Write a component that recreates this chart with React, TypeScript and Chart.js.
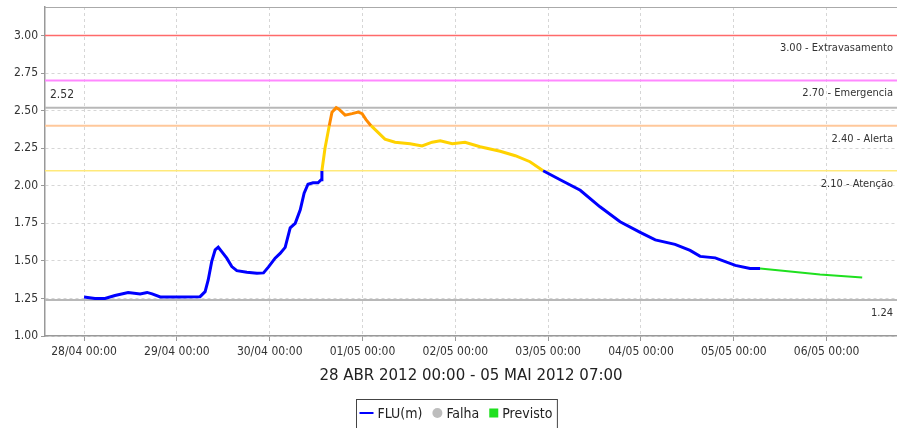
import React, { useEffect, useRef } from "react";
import { Chart, registerables } from "chart.js";

Chart.register(...registerables);

// ---------- data ----------
const xTickHours = [0, 24, 48, 72, 96, 120, 144, 168, 192];
const xTickLabels = [
  "28/04 00:00",
  "29/04 00:00",
  "30/04 00:00",
  "01/05 00:00",
  "02/05 00:00",
  "03/05 00:00",
  "04/05 00:00",
  "05/05 00:00",
  "06/05 00:00",
];
const yTickValues = [1.0, 1.25, 1.5, 1.75, 2.0, 2.25, 2.5, 2.75, 3.0];

// hours since 28/04 00:00
const observedHours = [
  0, 2.8, 5.4, 8.0, 11.4, 14.5, 16.3, 17.6, 19.7, 24.8, 30.0, 31.3, 32.1, 33.0, 33.9, 34.7, 35.6, 36.9,
  38.2, 39.5, 42.1, 44.7, 46.4, 47.7, 49.4, 50.7, 52.0, 53.3, 54.6, 55.9, 56.9, 57.9, 59.2, 60.5, 61.3,
  61.5, 62.3, 63.4, 64.1, 65.2, 65.9, 67.5, 69.3, 70.9, 71.9, 72.9, 74.2, 75.8, 77.8, 80.4, 84.3, 87.4,
  90.0, 92.1, 95.2, 98.5, 102.4, 107.6, 111.5, 115.3, 118.7, 123.1, 128.3, 133.4, 138.6, 143.8, 147.7,
  152.8, 156.7, 159.3, 163.2, 168.4, 172.2, 174.8,
];
const observedLevels = [
  1.26, 1.25, 1.25, 1.27, 1.29, 1.28, 1.29, 1.28, 1.26, 1.26, 1.262, 1.295, 1.373, 1.495, 1.573, 1.591,
  1.562, 1.518, 1.462, 1.435, 1.425, 1.418, 1.42, 1.46, 1.518, 1.55, 1.59, 1.72, 1.75, 1.84, 1.95, 2.01,
  2.02, 2.02, 2.04, 2.1, 2.25, 2.4, 2.49, 2.52, 2.51, 2.47, 2.48, 2.49, 2.48, 2.44, 2.4, 2.36, 2.31, 2.29,
  2.28, 2.265, 2.29, 2.3, 2.28, 2.29, 2.26, 2.23, 2.2, 2.16, 2.1, 2.04, 1.97, 1.86, 1.76, 1.69, 1.64,
  1.61, 1.57, 1.53, 1.52, 1.47, 1.45, 1.45,
];
const forecastHours = [174.8, 182.6, 190.3, 201.2];
const forecastLevels = [1.45, 1.43, 1.41, 1.39];

const thresholdValues = [3.0, 2.7, 2.4, 2.1];
const thresholdNames = ["Extravasamento", "Emergencia", "Alerta", "Atenção"];
const maxLevel = 2.52;
const minLevel = 1.24;

const axisTitle = "28 ABR 2012 00:00 - 05 MAI 2012 07:00";
const legendNames = ["FLU(m)", "Falha", "Previsto"];

const xMin = -10.1;
const xMax = 210.2;
const yMin = 1.0;
const yMax = 3.19;

// ---------- styles ----------
const COND = '"DejaVu Sans Condensed", "DejaVu Sans", sans-serif';
const SANS = '"DejaVu Sans", sans-serif';
const BLUE = "#0000ff";
const YELLOW = "#ffd200";
const ORANGE = "#ff8a00";
const GREEN = "#1fe01f";
const thresholdColors = ["#ff6a6a", "#ff88ff", "#ffc89b", "#ffe97a"];
const thresholdWidths = [1.5, 2, 2, 1.5];
const LIMIT_GRAY = "#b8b8b8";

const labelPlugin = {
  id: "labels",
  afterDatasetsDraw(chart: any) {
    const { ctx, chartArea, scales } = chart;
    const ys = scales.y;
    ctx.save();
    ctx.font = `11px ${COND}`;
    ctx.fillStyle = "#333";
    ctx.textBaseline = "middle";
    ctx.textAlign = "right";
    thresholdValues.forEach((v, i) => {
      const y = ys.getPixelForValue(v);
      ctx.fillText(`${v.toFixed(2)} - ${thresholdNames[i]}`, chartArea.right - 4, y + 13);
    });
    ctx.fillText(minLevel.toFixed(2), chartArea.right - 4, ys.getPixelForValue(minLevel) + 13);
    ctx.textAlign = "left";
    ctx.font = `12px ${COND}`;
    ctx.fillText(maxLevel.toFixed(2), chartArea.left + 5, ys.getPixelForValue(maxLevel) - 13);
    // top frame line
    ctx.strokeStyle = "#aaa";
    ctx.lineWidth = 1;
    ctx.beginPath();
    ctx.moveTo(chartArea.left, chartArea.top + 0.5);
    ctx.lineTo(chartArea.right, chartArea.top + 0.5);
    ctx.stroke();
    ctx.restore();
  },
  afterDraw(chart: any) {
    const { ctx } = chart;
    ctx.save();
    ctx.font = `14px ${COND}`;
    ctx.textBaseline = "middle";
    ctx.textAlign = "left";
    const symW = [14, 10, 9];
    const gapSym = 4;
    const gapItem = 10;
    const padL = 3;
    const padR = 5;
    let total = padL + padR;
    legendNames.forEach((n, i) => {
      total += symW[i] + gapSym + ctx.measureText(n).width + (i < legendNames.length - 1 ? gapItem : 0);
    });
    const cx = 456.5;
    const boxL = Math.round(cx - total / 2) + 0.5;
    const boxT = 399.5;
    const cy = 413;
    ctx.strokeStyle = "#444";
    ctx.lineWidth = 1;
    ctx.strokeRect(boxL, boxT, total, 40);
    let x = boxL + padL;
    legendNames.forEach((n, i) => {
      if (i === 0) {
        ctx.strokeStyle = BLUE;
        ctx.lineWidth = 2;
        ctx.beginPath();
        ctx.moveTo(x, cy);
        ctx.lineTo(x + symW[0], cy);
        ctx.stroke();
      } else if (i === 1) {
        ctx.fillStyle = "#bdbdbd";
        ctx.beginPath();
        ctx.arc(x + 5, cy, 5, 0, Math.PI * 2);
        ctx.fill();
      } else {
        ctx.fillStyle = GREEN;
        ctx.fillRect(x, cy - 4.5, 9, 9);
      }
      x += symW[i] + gapSym;
      ctx.fillStyle = "#222";
      ctx.fillText(n, x, cy + 1);
      x += ctx.measureText(n).width + gapItem;
    });
    ctx.restore();
  },
};

export default function App() {
  const ref = useRef<HTMLCanvasElement | null>(null);
  useEffect(() => {
    if (!ref.current) return;
    const observed = observedHours.map((h, i) => ({ x: h, y: observedLevels[i] }));
    const forecast = forecastHours.map((h, i) => ({ x: h, y: forecastLevels[i] }));
    const hLine = (v: number) => [
      { x: xMin, y: v },
      { x: xMax, y: v },
    ];
    const datasets: any[] = [
      {
        label: legendNames[0],
        data: observed,
        borderColor: BLUE,
        borderWidth: 3,
        pointRadius: 0,
        segment: {
          borderColor: (c: any) => {
            const m = (c.p0.parsed.y + c.p1.parsed.y) / 2;
            return m > thresholdValues[2] ? ORANGE : m > thresholdValues[3] ? YELLOW : BLUE;
          },
        },
      },
      {
        label: legendNames[2],
        data: forecast,
        borderColor: GREEN,
        borderWidth: 2,
        pointRadius: 0,
      },
      ...thresholdValues.map((v, i) => ({
        label: thresholdNames[i],
        data: hLine(v),
        borderColor: thresholdColors[i],
        borderWidth: thresholdWidths[i],
        pointRadius: 0,
      })),
      { label: "max", data: hLine(maxLevel), borderColor: LIMIT_GRAY, borderWidth: 2, pointRadius: 0 },
      { label: "min", data: hLine(minLevel), borderColor: LIMIT_GRAY, borderWidth: 2, pointRadius: 0 },
    ];
    const chart = new Chart(ref.current, {
      type: "line",
      data: { datasets },
      plugins: [labelPlugin],
      options: {
        animation: false,
        responsive: false,
        events: [],
        layout: { padding: { top: 7, left: 0, right: 0, bottom: 32 } },
        plugins: { legend: { display: false }, tooltip: { enabled: false } },
        scales: {
          x: {
            type: "linear",
            min: xMin,
            max: xMax,
            afterBuildTicks: (s: any) => {
              s.ticks = xTickHours.map((v) => ({ value: v }));
            },
            afterFit: (s: any) => {
              s.height = 60;
              s.paddingLeft = 0;
              s.paddingRight = 0;
            },
            ticks: {
              autoSkip: false,
              maxRotation: 0,
              padding: 4,
              color: "#333",
              font: { family: COND, size: 12 },
              callback: (v: any) => {
                const i = xTickHours.indexOf(Number(v));
                return i >= 0 ? xTickLabels[i] : "";
              },
            },
            grid: { color: "#d6d6d6", tickLength: 5, tickColor: "#999", lineWidth: 1 },
            border: { color: "#999", width: 1.5, dash: [3, 3] },
            title: {
              display: true,
              text: axisTitle,
              color: "#222",
              font: { family: SANS, size: 15 },
              padding: { top: 0, bottom: 11 },
            },
          },
          y: {
            min: yMin,
            max: yMax,
            afterBuildTicks: (s: any) => {
              s.ticks = yTickValues.map((v) => ({ value: v }));
            },
            afterFit: (s: any) => {
              s.width = 45;
              s.paddingTop = 0;
              s.paddingBottom = 0;
            },
            ticks: {
              padding: 3,
              color: "#333",
              font: { family: COND, size: 12 },
              callback: (v: any) => Number(v).toFixed(2),
            },
            grid: { color: "#d6d6d6", tickLength: 4, tickColor: "#999", lineWidth: 1 },
            border: { color: "#999", width: 1.5, dash: [3, 3] },
          },
        },
      },
    });
    return () => chart.destroy();
  }, []);
  return (
    <div style={{ position: "absolute", left: 0, top: 0, width: 897, height: 428, background: "#fff" }}>
      <canvas ref={ref} width={897} height={428} style={{ display: "block" }} />
    </div>
  );
}
